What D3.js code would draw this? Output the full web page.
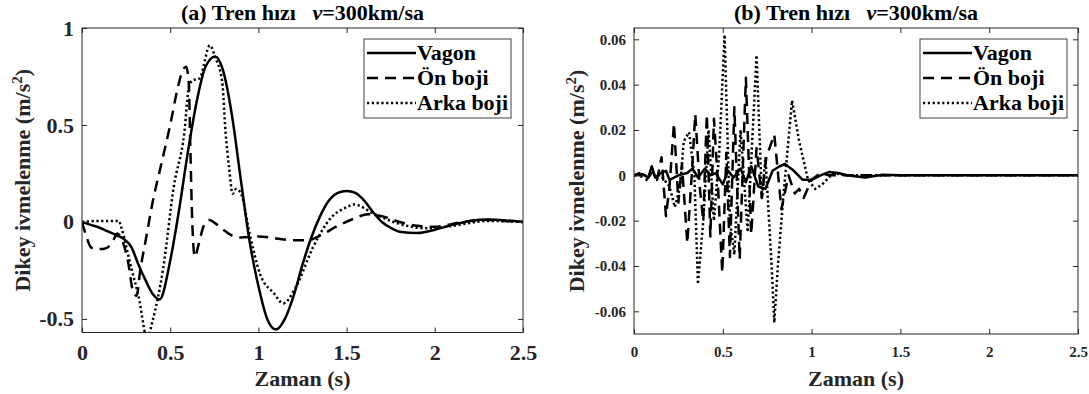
<!DOCTYPE html>
<html><head><meta charset="utf-8">
<script src="https://cdn.jsdelivr.net/npm/d3@7"></script>
<style>
body{margin:0;background:#fff;}
svg text{font-family:"Liberation Serif","Times New Roman",serif;font-weight:bold;fill:#262626;}
</style></head>
<body><svg id="c" width="1089" height="394"></svg>
<script>
// ---- data ----
const xTicks = [0, 0.5, 1, 1.5, 2, 2.5];
const xTickLabels = ["0", "0.5", "1", "1.5", "2", "2.5"];
const yTicksA = [-0.5, 0, 0.5, 1];
const yTickLabelsA = ["-0.5", "0", "0.5", "1"];
const yTicksB = [-0.06, -0.04, -0.02, 0, 0.02, 0.04, 0.06];
const yTickLabelsB = ["-0.06", "-0.04", "-0.02", "0", "0.02", "0.04", "0.06"];
const seriesNames = ["Vagon", "Ön boji", "Arka boji"];
const titles = ["(a) Tren hızı", "(b) Tren hızı"];

// panel (a) values: [time, acceleration]
const vagonA = [[0,0],[0.05,-0.015],[0.1,-0.03],[0.15,-0.05],[0.2,-0.07],[0.24,-0.09],[0.28,-0.13],[0.32,-0.22],[0.36,-0.3],[0.4,-0.37],[0.44,-0.4],[0.5,-0.2],[0.55,0.06],[0.6,0.36],[0.65,0.62],[0.7,0.8],[0.755,0.853],[0.8,0.78],[0.85,0.55],[0.9,0.22],[0.95,-0.1],[1.0,-0.33],[1.05,-0.5],[1.1,-0.555],[1.15,-0.5],[1.2,-0.38],[1.25,-0.22],[1.3,-0.08],[1.35,0.03],[1.4,0.11],[1.45,0.15],[1.5,0.16],[1.55,0.15],[1.6,0.11],[1.65,0.05],[1.7,0.0],[1.75,-0.03],[1.8,-0.05],[1.9,-0.057],[2.0,-0.04],[2.1,-0.015],[2.2,0.005],[2.3,0.012],[2.4,0.008],[2.5,0]];
const onA = [[0,0],[0.02,-0.06],[0.05,-0.13],[0.08,-0.14],[0.12,-0.14],[0.16,-0.12],[0.18,-0.09],[0.2,-0.06],[0.22,-0.08],[0.26,-0.2],[0.29,-0.36],[0.31,-0.38],[0.33,-0.25],[0.36,-0.1],[0.4,0.1],[0.45,0.3],[0.5,0.5],[0.54,0.68],[0.57,0.78],[0.59,0.8],[0.605,0.72],[0.615,0.35],[0.625,0.0],[0.64,-0.18],[0.66,-0.12],[0.69,-0.02],[0.72,0.01],[0.76,-0.01],[0.8,-0.04],[0.85,-0.07],[0.9,-0.08],[1.0,-0.075],[1.1,-0.085],[1.2,-0.095],[1.28,-0.095],[1.35,-0.07],[1.45,-0.02],[1.55,0.02],[1.62,0.04],[1.7,0.03],[1.8,0.0],[1.9,-0.02],[2.0,-0.025],[2.1,-0.01],[2.2,0.005],[2.3,0.01],[2.4,0.005],[2.5,0]];
const arkaA = [[0,0],[0.1,0.005],[0.21,0.005],[0.22,-0.02],[0.28,-0.24],[0.32,-0.38],[0.37,-0.6],[0.4,-0.51],[0.46,-0.24],[0.52,0.18],[0.58,0.46],[0.607,0.7],[0.627,0.73],[0.666,0.74],[0.725,0.91],[0.755,0.85],[0.795,0.72],[0.814,0.46],[0.834,0.28],[0.854,0.145],[0.873,0.17],[0.9,0.15],[0.95,-0.06],[1.01,-0.27],[1.09,-0.37],[1.14,-0.42],[1.21,-0.34],[1.31,-0.13],[1.41,0.02],[1.5,0.076],[1.54,0.09],[1.66,0.04],[1.8,-0.01],[1.96,-0.033],[2.1,-0.02],[2.3,0.005],[2.5,0]];

// panel (b) values
const vagonB = [[0,0],[0.05,0.0005],[0.08,-0.001],[0.1,0.004],[0.12,-0.001],[0.15,0.001],[0.18,0.002],[0.2,-0.002],[0.25,0.0],[0.3,0.001],[0.33,0.003],[0.36,-0.001],[0.4,0.003],[0.43,0.0],[0.46,0.001],[0.5,-0.004],[0.53,0.002],[0.56,-0.001],[0.6,0.003],[0.63,-0.003],[0.66,0.004],[0.7,-0.005],[0.74,-0.006],[0.78,0.002],[0.82,0.004],[0.85,0.005],[0.9,0.002],[0.95,-0.002],[1.0,-0.002],[1.05,0.0],[1.1,0.0015],[1.15,0.001],[1.2,0.0],[1.3,-0.001],[1.4,0.0003],[1.5,0],[2.5,0]];
const onB = [[0,0],[0.03,0.001],[0.06,-0.003],[0.1,0.001],[0.13,-0.002],[0.155,0.008],[0.18,-0.018],[0.2,-0.005],[0.225,0.023],[0.25,-0.012],[0.27,0.005],[0.3,-0.03],[0.325,0.0],[0.345,0.027],[0.37,-0.005],[0.39,-0.02],[0.41,0.027],[0.43,-0.027],[0.45,0.025],[0.47,0.0],[0.497,-0.043],[0.52,0.01],[0.54,-0.036],[0.565,0.03],[0.595,-0.037],[0.63,0.043],[0.66,-0.026],[0.69,0.012],[0.72,-0.01],[0.745,0.008],[0.79,0.018],[0.83,-0.015],[0.87,0.0],[0.905,-0.008],[0.93,-0.006],[0.955,-0.01],[1.0,-0.002],[1.05,0.001],[1.1,0.0],[2.5,0]];
const arkaB = [[0,0],[0.1,0],[0.15,0.0],[0.2,-0.005],[0.23,-0.014],[0.26,-0.005],[0.28,0.015],[0.31,0.019],[0.34,0.0],[0.36,-0.048],[0.39,-0.02],[0.42,0.02],[0.45,-0.02],[0.48,0.01],[0.51,0.062],[0.54,-0.02],[0.565,-0.035],[0.6,0.02],[0.64,-0.025],[0.69,0.053],[0.72,-0.01],[0.74,0.008],[0.775,-0.04],[0.79,-0.065],[0.81,-0.04],[0.84,-0.01],[0.89,0.033],[0.93,0.015],[0.98,-0.002],[1.02,-0.006],[1.06,-0.004],[1.12,0.001],[1.2,0.0],[2.5,0]];

// ---- drawing ----
const svg = d3.select("#c");
const styles = [
  {w:2.5, dash:null},
  {w:2.5, dash:"11,7"},
  {w:2.5, dash:"2.2,2.6"}
];

function panel(opt){
  const {x0,x1,y0,y1,ydom,yt,ytl,data,title,tickFont,id,curve,leg,ylabX} = opt;
  const x = d3.scaleLinear().domain([0,2.5]).range([x0,x1]);
  const y = d3.scaleLinear().domain(ydom).range([y1,y0]);
  const g = svg.append("g");
  g.append("clipPath").attr("id",id).append("rect")
    .attr("x",x0).attr("y",y0).attr("width",x1-x0).attr("height",y1-y0);
  const line = d3.line().x(d=>x(d[0])).y(d=>y(d[1])).curve(curve);
  const lg = g.append("g").attr("clip-path",`url(#${id})`);
  data.forEach((s,i)=>{
    lg.append("path").attr("d",line(s)).attr("fill","none").attr("stroke","#000")
      .attr("stroke-width",styles[i].w).attr("stroke-dasharray",styles[i].dash)
      .attr("stroke-linejoin","round");
  });
  // axes (inside ticks, box)
  const tl = 5;
  const bottom = g.append("g").attr("transform",`translate(0,${y1})`)
    .call(d3.axisBottom(x).tickValues(xTicks).tickSizeInner(-tl).tickSizeOuter(0).tickPadding(12).tickFormat((d,i)=>xTickLabels[i]));
  const top = g.append("g").attr("transform",`translate(0,${y0})`)
    .call(d3.axisTop(x).tickValues(xTicks).tickSizeInner(-tl).tickSizeOuter(0).tickFormat(""));
  const left = g.append("g").attr("transform",`translate(${x0},0)`)
    .call(d3.axisLeft(y).tickValues(yt).tickSizeInner(-tl).tickSizeOuter(0).tickPadding(8).tickFormat((d,i)=>ytl[i]));
  const right = g.append("g").attr("transform",`translate(${x1},0)`)
    .call(d3.axisRight(y).tickValues(yt).tickSizeInner(-tl).tickSizeOuter(0).tickFormat(""));
  [bottom,top,left,right].forEach(a=>{
    a.select(".domain").remove();
    a.selectAll("line").attr("stroke","#262626");
    a.selectAll("text").attr("font-size",tickFont).attr("font-family",null).attr("fill","#262626");
  });
  bottom.selectAll("text").attr("dy","0.71em");
  g.append("rect").attr("x",x0).attr("y",y0).attr("width",x1-x0).attr("height",y1-y0)
    .attr("fill","none").attr("stroke","#262626").attr("stroke-width",1);
  // title
  const t = g.append("text").attr("x",(x0+x1)/2).attr("y",20).attr("text-anchor","middle")
    .attr("font-size",22).style("fill","#000");
  t.append("tspan").text(title + "\u00a0\u00a0\u00a0");
  t.append("tspan").attr("font-style","italic").text("v");
  t.append("tspan").text("=300km/sa");
  // x label
  g.append("text").attr("x",(x0+x1)/2).attr("y",386).attr("text-anchor","middle")
    .attr("font-size",22).text("Zaman (s)");
  // y label
  const yl = g.append("text").attr("transform",`translate(${ylabX},${(y0+y1)/2}) rotate(-90)`)
    .attr("text-anchor","middle").attr("font-size",22);
  yl.append("tspan").text("Dikey ivmelenme (m/s");
  yl.append("tspan").attr("font-size",15).attr("dy",-8).text("2");
  yl.append("tspan").attr("dy",8).text(")");
  // legend
  const lb = g.append("g");
  lb.append("rect").attr("x",leg.x).attr("y",leg.y).attr("width",leg.w).attr("height",leg.h)
    .attr("fill","#fff").attr("stroke","#404040").attr("stroke-width",1);
  seriesNames.forEach((n,i)=>{
    const cy = leg.y + 14 + i*25;
    lb.append("line").attr("x1",leg.x+3).attr("x2",leg.x+52).attr("y1",cy).attr("y2",cy)
      .attr("stroke","#000").attr("stroke-width",styles[i].w).attr("stroke-dasharray",styles[i].dash);
    lb.append("text").attr("x",leg.x+53).attr("y",cy+7).attr("font-size",22).style("fill","#000").text(n);
  });
}

panel({x0:82,x1:523,y0:28,y1:332.5,ydom:[-0.57,1],yt:yTicksA,ytl:yTickLabelsA,
  data:[vagonA,onA,arkaA],title:titles[0],tickFont:22,id:"ca",curve:d3.curveMonotoneX,
  leg:{x:364,y:39,w:147,h:79},ylabX:30});
panel({x0:634,x1:1078,y0:28,y1:334,ydom:[-0.07,0.065],yt:yTicksB,ytl:yTickLabelsB,
  data:[vagonB,onB,arkaB],title:titles[1],tickFont:15,id:"cb",curve:d3.curveLinear,
  leg:{x:920,y:39,w:147,h:79},ylabX:584});
</script></body></html>
